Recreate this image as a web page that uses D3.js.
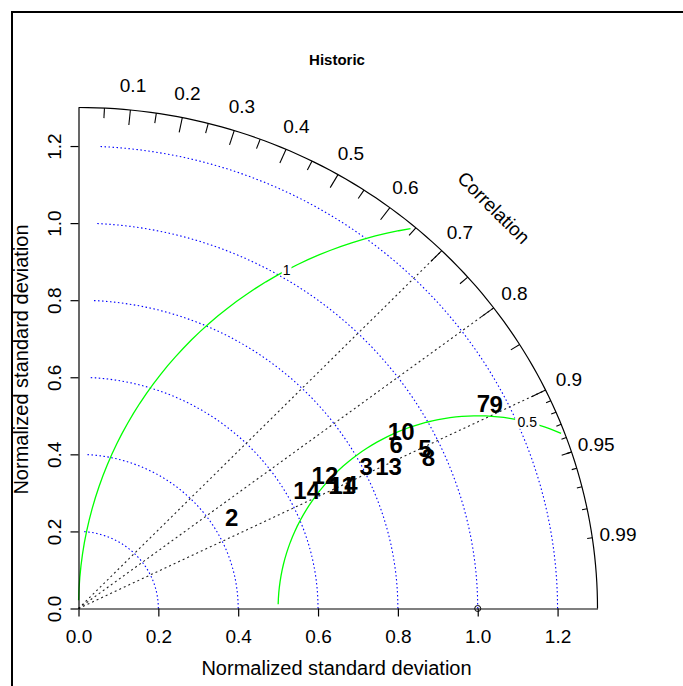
<!DOCTYPE html>
<html><head><meta charset="utf-8">
<script src="https://cdn.jsdelivr.net/npm/d3@7"></script>
<style>
body{margin:0;background:#fff}
svg{display:block}
text{font-family:"Liberation Sans",Arial,sans-serif;fill:#000}
</style>
</head><body>
<svg id="c" width="683" height="686"></svg>
<script>
// ---- data ----
const chartTitle = "Historic";
const xTitle = "Normalized standard deviation";
const yTitle = "Normalized standard deviation";
const corrTitle = "Correlation";
const models     = ["1","2","3","4","5","6","7","8","9","10","11","12","13","14"];
const sdValues   = [0.717,0.450,0.809,0.754,0.962,0.902,1.145,0.960,1.173,0.929,0.733,0.707,0.859,0.648];
const corrValues = [0.896,0.853,0.891,0.905,0.902,0.882,0.886,0.913,0.892,0.870,0.901,0.873,0.904,0.882];
const highlightModel = "5";
const sdTicks   = [0,0.2,0.4,0.6,0.8,1.0,1.2];
const sdArcs    = [0.2,0.4,0.6,0.8,1.0,1.2];
const corrLabels = [0.1,0.2,0.3,0.4,0.5,0.6,0.7,0.8,0.9,0.95,0.99];
const bigTicks  = [0.1,0.2,0.3,0.4,0.5,0.6,0.7,0.8,0.9];
const medTicks  = [0.05,0.15,0.25,0.35,0.45,0.55,0.65,0.75,0.85,0.95];
const smlTicks  = [0.91,0.92,0.93,0.94,0.95,0.96,0.97,0.98,0.99];
const corrLines = [0.7,0.8,0.9];
const rmsLevels = [0.5,1.0];
const refSd = 1.0;
const maxSd = 1.3;

// ---- setup ----
const svg = d3.select("#c");
const x = d3.scaleLinear().domain([0,maxSd]).range([78.5,597.5]);
const y = d3.scaleLinear().domain([0,maxSd]).range([608.5,107.5]);
const line = d3.line().x(d=>x(d[0])).y(d=>y(d[1]));

// outer frame
svg.append("path").attr("d","M12,686V12H683").attr("fill","none").attr("stroke","#000").attr("stroke-width",2);

// blue sd arcs
const g = svg.append("g");
sdArcs.forEach(s=>{
  const pts = d3.range(0,52).map(i=>[Math.cos(i*0.03)*s, Math.sin(i*0.03)*s]);
  g.append("path").attr("d",line(pts)).attr("fill","none").attr("stroke","#0000ff")
   .attr("stroke-width",1.1).attr("stroke-dasharray","1.5,2.5");
});

// correlation rays
corrLines.forEach(c=>{
  g.append("path").attr("d",line([[0,0],[c*maxSd,Math.sqrt(1-c*c)*maxSd]]))
   .attr("fill","none").attr("stroke","#222").attr("stroke-width",1.1).attr("stroke-dasharray","2,3");
});

// green centred RMS curves
const tSeq = d3.range(105).map(i=>i*0.03);
const labelPos = rmsLevels.length>1 ? rmsLevels.map((_,i)=>Math.round(45+(70-45)*i/(rmsLevels.length-1))) : [45];
rmsLevels.forEach((gm,gi)=>{
  const xc = tSeq.map(t=>Math.cos(t)*gm+refSd);
  const yc = tSeq.map(t=>Math.sin(t)*gm);
  let end = xc.findIndex(v=>v<0); end = end<0 ? xc.length-1 : end-1;
  let start = -1;
  xc.forEach((v,i)=>{ if(v*v+yc[i]*yc[i] > maxSd*maxSd) start=i; });
  start = start+1;
  const pts = d3.range(start,end+1).map(i=>[xc[i],yc[i]]);
  g.append("path").attr("d",line(pts)).attr("fill","none").attr("stroke","#00ff00").attr("stroke-width",1.3);
  const li = labelPos[gi]-1;
  if (xc[li] > 0) {
    const lg = g.append("g");
    const rect = lg.append("rect");
    const tx = lg.append("text").attr("x",x(xc[li])).attr("y",y(yc[li])).attr("dy","0.35em")
      .attr("text-anchor","middle").style("font-size","14px").attr("fill","#333").text(d3.format("")(gm));
    const w = tx.node().getComputedTextLength()*1.25;
    const h = 14;
    rect.attr("x",x(xc[li])-w/2).attr("y",y(yc[li])-h/2).attr("width",w).attr("height",h).attr("fill","#fff");
  }
});

// outer arc
const arcPts = d3.range(0,91).map(i=>{const a=i/90*Math.PI/2; return [Math.cos(a)*maxSd, Math.sin(a)*maxSd];});
svg.append("path").attr("d",line(arcPts)).attr("fill","none").attr("stroke","#000").attr("stroke-width",1.2);

// ticks on arc
function ticks(vals, inner){
  vals.forEach(c=>{
    const a=Math.acos(c);
    svg.append("path").attr("d",line([[Math.cos(a)*maxSd,Math.sin(a)*maxSd],[Math.cos(a)*inner*maxSd,Math.sin(a)*inner*maxSd]]))
      .attr("stroke","#000").attr("stroke-width",1.1);
  });
}
ticks(bigTicks,0.97); ticks(medTicks,0.98); ticks(smlTicks,0.99);

// correlation labels
corrLabels.forEach(c=>{
  const a=Math.acos(c);
  svg.append("text").attr("x",x(Math.cos(a)*1.05*maxSd)).attr("y",y(Math.sin(a)*1.05*maxSd))
    .attr("dy","0.35em").attr("text-anchor","middle").style("font-size","19px").text(c);
});
svg.append("text").attr("transform",`translate(${x(maxSd*0.8)},${y(maxSd*0.8)}) rotate(45)`)
  .attr("dy","0.35em").attr("text-anchor","middle").style("font-size","19px").text(corrTitle);

// axes
const fmt = d3.format(".1f");
const ax = svg.append("g").attr("transform",`translate(${x(0)},0)`)
  .call(d3.axisLeft(y).tickValues(sdTicks).tickFormat(fmt).tickSize(8).tickSizeOuter(0));
ax.select(".domain").attr("stroke","#000").attr("stroke-width",1.2);
ax.selectAll(".tick line").attr("stroke","#000").attr("stroke-width",1.2);
ax.selectAll(".tick text").attr("x",null).attr("dy","0.35em").attr("text-anchor","middle")
  .attr("transform","translate(-24,0) rotate(-90)").style("font-size","19px").attr("font-family",null).attr("fill","#000");

const bx = svg.append("g").attr("transform",`translate(0,${y(0)})`)
  .call(d3.axisBottom(x).tickValues(sdTicks).tickFormat(fmt).tickSize(8).tickSizeOuter(0));
bx.select(".domain").attr("stroke","#000").attr("stroke-width",1.2);
bx.selectAll(".tick line").attr("stroke","#000").attr("stroke-width",1.2);
bx.selectAll(".tick text").attr("y",27.5).attr("dy","0.35em").style("font-size","19px").attr("font-family",null).attr("fill","#000");

// reference point
svg.append("circle").attr("cx",x(refSd)).attr("cy",y(0)).attr("r",3).attr("fill","none").attr("stroke","#000");

// titles
svg.append("text").attr("x",337).attr("y",60).attr("dy","0.35em").attr("text-anchor","middle")
  .style("font-size","15px").style("font-weight","bold").text(chartTitle);
svg.append("text").attr("x",336.5).attr("y",668).attr("dy","0.35em").attr("text-anchor","middle")
  .style("font-size","20px").text(xTitle);
svg.append("text").attr("transform","translate(21,359.5) rotate(-90)").attr("dy","0.35em").attr("text-anchor","middle")
  .style("font-size","20px").text(yTitle);

// model points (labels)
svg.append("g").selectAll("text").data(models).join("text")
  .attr("x",(d,i)=>x(sdValues[i]*corrValues[i]))
  .attr("y",(d,i)=>y(sdValues[i]*Math.sqrt(1-corrValues[i]*corrValues[i])))
  .attr("dy","0.35em").attr("text-anchor","middle")
  .style("font-size","24px").style("font-weight","bold")
  .attr("fill",d=>d===highlightModel?"#ff0000":"#000")
  .text(d=>d);
</script>
</body></html>
